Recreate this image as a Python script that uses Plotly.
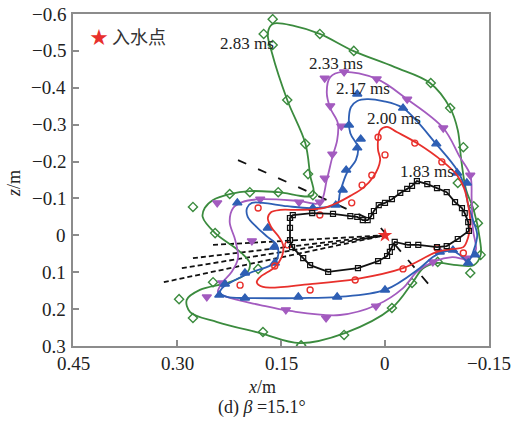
import plotly.graph_objects as go

# ---- data (metres) ----
# 2.83 ms contour (green)
g_line_x = [0.162,0.130,0.094,0.046,-0.014,-0.065,-0.094,-0.105,-0.110,-0.117,-0.128,-0.137,-0.138,-0.128,-0.104,-0.075,-0.055,-0.040,-0.010,0.058,0.123,0.180,0.242,0.281,0.286,0.267,0.224,0.199,0.195,0.212,0.245,0.263,0.260,0.248,0.224,0.195,0.154,0.104,0.108,0.115,0.141,0.163,0.169]
g_line_z = [-0.573,-0.567,-0.546,-0.500,-0.456,-0.413,-0.345,-0.285,-0.204,-0.123,-0.069,0.013,0.053,0.081,0.081,0.075,0.089,0.127,0.197,0.265,0.292,0.265,0.235,0.208,0.175,0.148,0.127,0.102,0.075,0.040,-0.006,-0.050,-0.074,-0.096,-0.112,-0.120,-0.117,-0.109,-0.163,-0.250,-0.367,-0.494,-0.548]
g_pts_x = [0.162,0.175,0.162,0.094,0.045,-0.066,-0.094,-0.113,-0.105,-0.128,-0.134,-0.138,-0.123,-0.076,-0.039,-0.010,0.059,0.121,0.176,0.277,0.297,0.248,0.183,0.245,0.277,0.224,0.195,0.154,0.104,0.111,0.115,0.141]
g_pts_z = [-0.586,-0.546,-0.516,-0.546,-0.500,-0.413,-0.345,-0.239,-0.142,-0.079,-0.033,0.053,0.102,0.072,0.129,0.197,0.270,0.298,0.262,0.224,0.173,0.127,0.091,-0.006,-0.077,-0.112,-0.117,-0.117,-0.109,-0.166,-0.248,-0.367]

# 2.33 ms contour (purple)
p_line_x = [0.079,0.061,0.012,-0.032,-0.084,-0.108,-0.123,-0.125,-0.127,-0.131,-0.121,-0.097,-0.072,-0.046,-0.026,0.012,0.065,0.137,0.180,0.228,0.241,0.235,0.221,0.212,0.216,0.224,0.219,0.206,0.180,0.123,0.094,0.084,0.076,0.069,0.068,0.079,0.084]
p_line_z = [-0.429,-0.443,-0.424,-0.369,-0.291,-0.212,-0.163,-0.096,-0.014,0.040,0.064,0.059,0.070,0.099,0.143,0.189,0.216,0.205,0.189,0.167,0.154,0.129,0.099,0.062,0.013,-0.036,-0.074,-0.090,-0.098,-0.093,-0.088,-0.150,-0.212,-0.258,-0.304,-0.345,-0.388]
p_pts_x = [0.087,0.059,0.012,-0.032,-0.084,-0.123,-0.117,-0.069,0.013,0.085,0.143,0.257,0.235,0.192,0.242,0.180,0.124,0.094,0.087,0.076,0.063,0.079]
p_pts_z = [-0.426,-0.443,-0.424,-0.369,-0.291,-0.163,0.062,0.072,0.192,0.224,0.202,0.167,0.129,0.015,-0.088,-0.098,-0.090,-0.090,-0.155,-0.220,-0.296,-0.351]

# 2.17 ms contour (blue)
b_line_x = [0.040,0.026,0.003,-0.026,-0.075,-0.104,-0.115,-0.120,-0.127,-0.133,-0.128,-0.120,-0.108,-0.098,-0.084,-0.069,-0.050,0.000,0.068,0.123,0.195,0.228,0.238,0.235,0.224,0.195,0.159,0.154,0.156,0.169,0.185,0.198,0.199,0.192,0.176,0.141,0.104,0.069,0.065,0.055,0.042,0.039,0.050,0.052,0.049]
b_line_z = [-0.364,-0.369,-0.364,-0.345,-0.245,-0.177,-0.131,-0.082,-0.041,-0.001,0.040,0.070,0.053,0.043,0.045,0.059,0.089,0.148,0.167,0.170,0.170,0.167,0.156,0.143,0.129,0.102,0.075,0.053,0.026,0.005,-0.022,-0.050,-0.074,-0.088,-0.088,-0.079,-0.074,-0.085,-0.115,-0.169,-0.204,-0.239,-0.277,-0.321,-0.348]
b_pts_x = [0.040,-0.026,-0.074,-0.104,-0.118,-0.130,-0.120,-0.098,-0.079,0.000,0.069,0.125,0.202,0.239,0.231,0.202,0.159,0.160,0.169,0.213,0.104,0.071,0.061,0.056,0.040,0.035,0.052]
b_pts_z = [-0.383,-0.345,-0.248,-0.169,-0.142,0.053,0.075,0.040,0.045,0.148,0.167,0.167,0.170,0.162,0.132,0.102,0.075,0.032,-0.020,-0.088,-0.074,-0.082,-0.123,-0.177,-0.237,-0.261,-0.299]

# 2.00 ms contour (red)
r_line_x = [0.010,0.007,-0.003,-0.017,-0.046,-0.084,-0.104,-0.114,-0.120,-0.123,-0.120,-0.113,-0.098,-0.075,-0.026,0.040,0.108,0.176,0.185,0.180,0.159,0.149,0.147,0.154,0.164,0.169,0.164,0.151,0.123,0.089,0.069,0.050,0.032,0.017,0.007,0.010]
r_line_z = [-0.258,-0.285,-0.294,-0.280,-0.250,-0.199,-0.163,-0.128,-0.082,-0.033,0.005,0.032,0.037,0.045,0.089,0.118,0.132,0.140,0.127,0.113,0.086,0.059,0.026,0.002,-0.022,-0.047,-0.063,-0.069,-0.069,-0.074,-0.088,-0.107,-0.128,-0.158,-0.204,-0.231]
r_pts_x = [0.010,-0.043,-0.082,-0.113,-0.075,-0.026,0.043,0.108,0.209,0.159,0.140,0.183,0.094,0.048,0.033,0.019,0.000]
r_pts_z = [-0.266,-0.250,-0.199,0.048,0.034,0.091,0.121,0.148,0.135,0.083,0.026,-0.074,-0.055,-0.088,-0.136,-0.163,-0.218]

# 1.83 ms contour (black)
k_x = [0.137,0.133,0.105,0.075,0.050,0.040,0.032,0.025,0.020,0.016,0.009,0.000,-0.010,-0.022,-0.032,-0.039,-0.046,-0.061,-0.075,-0.089,-0.101,-0.111,-0.115,-0.120,-0.121,-0.105,-0.089,-0.075,-0.048,-0.033,-0.014,-0.010,-0.007,-0.003,0.010,0.039,0.082,0.108,0.118,0.134,0.137,0.137]
k_z = [-0.047,-0.055,-0.060,-0.058,-0.052,-0.050,-0.041,-0.041,-0.052,-0.066,-0.082,-0.088,-0.098,-0.115,-0.126,-0.134,-0.147,-0.139,-0.128,-0.117,-0.090,-0.074,-0.060,-0.036,-0.012,0.010,0.029,0.032,0.026,0.026,0.018,0.032,0.045,0.056,0.070,0.089,0.099,0.081,0.062,0.032,0.013,-0.020]

# trajectories converging to the water-entry point
entry_x = [0.0]
entry_z = [0.0]
traj_start_x = [0.248, 0.277, 0.293, 0.319]
traj_start_z = [0.026, 0.062, 0.089, 0.127]
guide1_x = [0.212, 0.019]
guide1_z = [-0.204, -0.041]
guide2_x = [0.006, -0.069]
guide2_z = [-0.020, 0.146]

labels = ["2.83 ms", "2.33 ms", "2.17 ms", "2.00 ms", "1.83 ms"]
label_x = [0.199, 0.071, 0.032, -0.013, -0.061]
label_z = [-0.519, -0.466, -0.399, -0.318, -0.172]

x_ticks = [0.45, 0.30, 0.15, 0, -0.15]
x_ticktext = ["0.45", "0.30", "0.15", "0", "\u22120.15"]
z_ticks = [-0.6, -0.5, -0.4, -0.3, -0.2, -0.1, 0, 0.1, 0.2, 0.3]
z_ticktext = ["\u22120.6", "\u22120.5", "\u22120.4", "\u22120.3", "\u22120.2", "\u22120.1", "0", "0.1", "0.2", "0.3"]

GREEN = "#3b8b3e"
PURPLE = "#a35bbf"
BLUE = "#2e5fb4"
RED = "#e8302c"
BLACK = "#111111"
SERIF = "Liberation Serif"
TXT = "#222222"

fig = go.Figure()

def closed(a):
    return list(a) + [a[0]]

# dashed trajectory lines
for sx, sz in zip(traj_start_x, traj_start_z):
    fig.add_trace(go.Scatter(x=[sx, entry_x[0]], y=[sz, entry_z[0]], mode="lines",
                             line=dict(color=BLACK, width=1.8, dash="5px,3px"),
                             showlegend=False, hoverinfo="skip"))
fig.add_trace(go.Scatter(x=guide1_x, y=guide1_z, mode="lines",
                         line=dict(color=BLACK, width=1.8, dash="9px,13px"),
                         showlegend=False, hoverinfo="skip"))
fig.add_trace(go.Scatter(x=guide2_x, y=guide2_z, mode="lines",
                         line=dict(color=BLACK, width=1.8, dash="10px,11px"),
                         showlegend=False, hoverinfo="skip"))

series = [
    (g_line_x, g_line_z, g_pts_x, g_pts_z, GREEN, "diamond-open", 7),
    (p_line_x, p_line_z, p_pts_x, p_pts_z, PURPLE, "triangle-down", 8),
    (b_line_x, b_line_z, b_pts_x, b_pts_z, BLUE, "triangle-up", 8),
    (r_line_x, r_line_z, r_pts_x, r_pts_z, RED, "circle-open", 6),
]
for lx, lz, mx, mz, col, sym, sz in series:
    fig.add_trace(go.Scatter(x=closed(lx), y=closed(lz), mode="lines",
                             line=dict(color=col, width=1.8, shape="spline", smoothing=1.0),
                             showlegend=False, hoverinfo="skip"))
    fig.add_trace(go.Scatter(x=mx, y=mz, mode="markers",
                             marker=dict(symbol=sym, size=sz, color=col,
                                         line=dict(color=col, width=1.4)),
                             showlegend=False, hoverinfo="skip"))

fig.add_trace(go.Scatter(x=closed(k_x), y=closed(k_z), mode="lines+markers",
                         line=dict(color=BLACK, width=1.8),
                         marker=dict(symbol="square-open", size=5, color=BLACK,
                                     line=dict(color=BLACK, width=1.2)),
                         showlegend=False, hoverinfo="skip"))

fig.add_trace(go.Scatter(x=entry_x, y=entry_z, mode="markers",
                         marker=dict(symbol="star", size=11, color=RED),
                         showlegend=False, hoverinfo="skip"))

annotations = []
for t, lx, lz in zip(labels, label_x, label_z):
    annotations.append(dict(x=lx, y=lz, xref="x", yref="y", text=t, showarrow=False,
                            font=dict(family=SERIF, size=17, color=TXT)))

# tick labels placed precisely as text annotations
for v, t in zip(x_ticks, x_ticktext):
    annotations.append(dict(x=v, y=-0.054, xref="x", yref="paper", xanchor="center", yanchor="middle",
                            text=t, showarrow=False, font=dict(family=SERIF, size=19, color=TXT)))
for v, t in zip(z_ticks, z_ticktext):
    annotations.append(dict(x=-0.012, y=v, xref="paper", yref="y", xanchor="right", yanchor="middle",
                            text=t, showarrow=False, font=dict(family=SERIF, size=19, color=TXT)))

annotations += [
    dict(x=0.035, y=0.934, xref="paper", yref="paper", xanchor="left", yanchor="middle",
         text="<span style='color:#e8302c'>\u2605</span> 入水点", showarrow=False,
         font=dict(family="Noto Sans CJK SC", size=18, color="#333")),
    dict(x=0.454, y=-0.123, xref="paper", yref="paper", xanchor="center", yanchor="middle",
         text="<i>x</i>/m", showarrow=False,
         font=dict(family=SERIF, size=18, color=TXT)),
    dict(x=-0.142, y=0.491, xref="paper", yref="paper", xanchor="center", yanchor="middle",
         text="<i>z</i>/m", showarrow=False,
         textangle=-90, font=dict(family=SERIF, size=18, color=TXT)),
    dict(x=0.454, y=-0.184, xref="paper", yref="paper", xanchor="center", yanchor="middle",
         text="(d) <i>β</i> =15.1°", showarrow=False,
         font=dict(family=SERIF, size=18, color=TXT)),
]

axis_common = dict(showgrid=False, zeroline=False, showline=True, linecolor="#8c8c8c", linewidth=1.5,
                   mirror=True, ticks="inside", ticklen=6, tickcolor="#8c8c8c", tickwidth=1.5,
                   automargin=False, showticklabels=False)

fig.update_layout(
    width=514, height=421,
    margin=dict(l=73, r=25, t=14, b=75),
    paper_bgcolor="white", plot_bgcolor="white",
    xaxis=dict(range=[0.45, -0.15], tickvals=x_ticks, **axis_common),
    yaxis=dict(range=[0.3, -0.6], tickvals=z_ticks, **axis_common),
    annotations=annotations,
    showlegend=False,
)

fig.write_html("out.html")
